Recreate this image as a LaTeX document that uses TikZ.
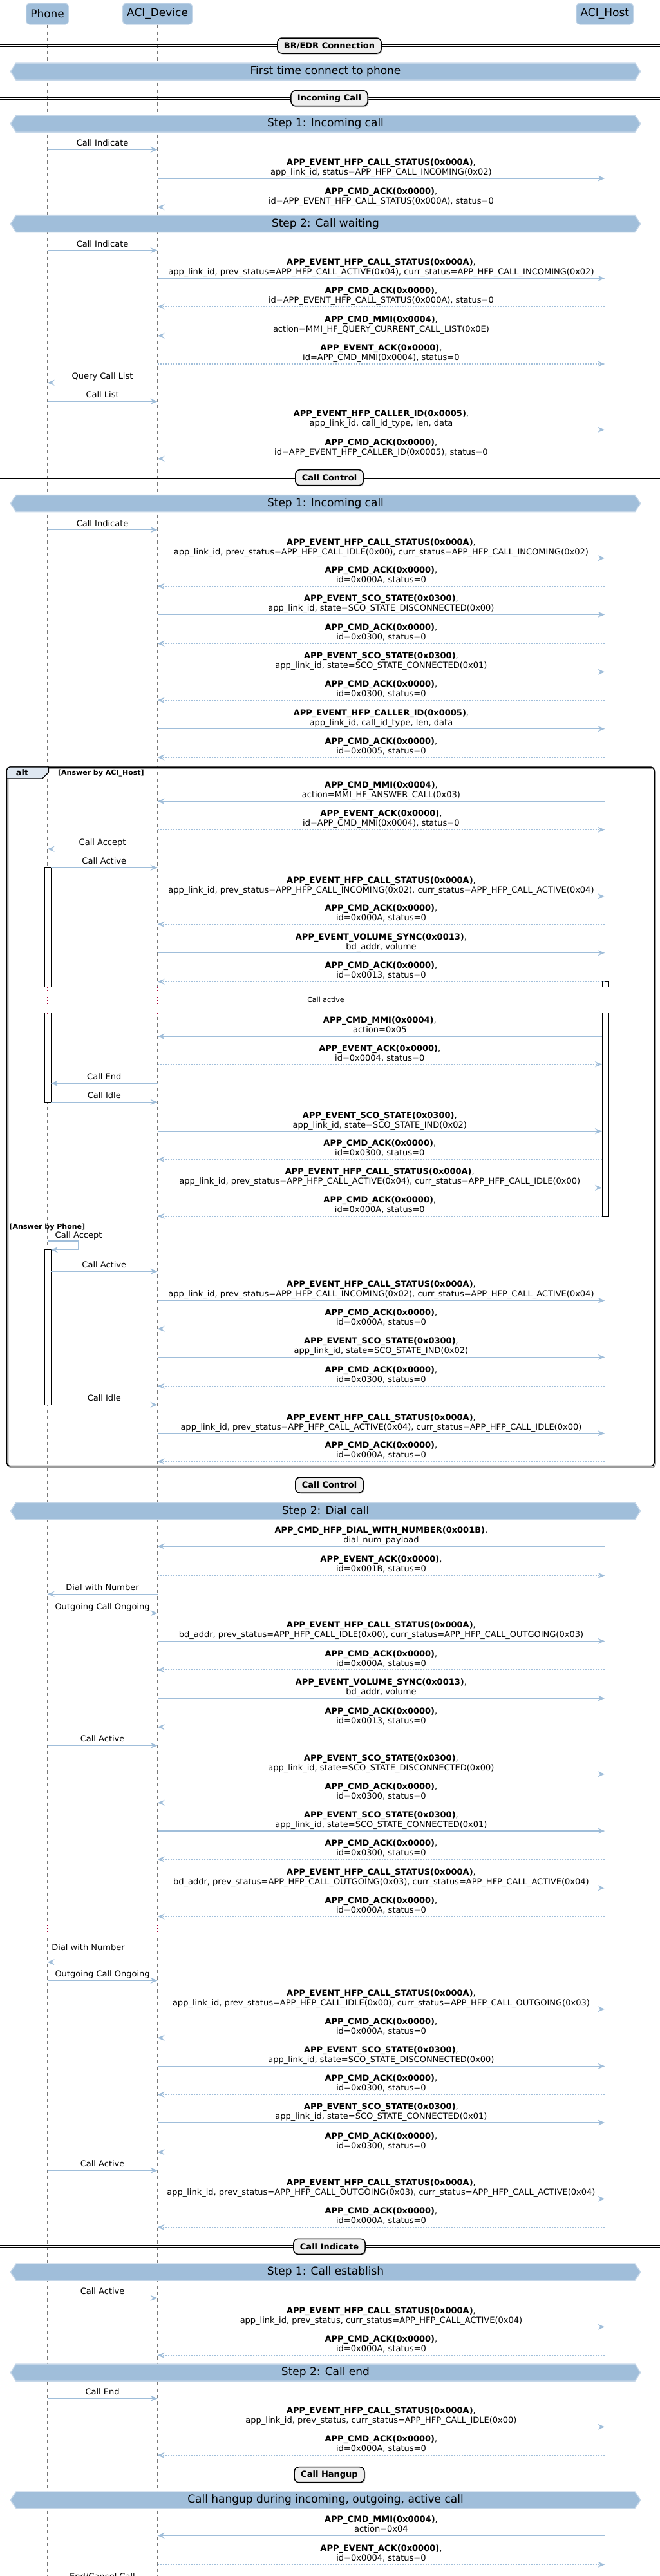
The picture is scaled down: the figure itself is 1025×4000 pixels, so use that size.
\documentclass[tikz,border=0pt]{standalone}
\usepackage{fontspec}
\setmainfont{DejaVu Sans}
\usetikzlibrary{arrows.meta,calc,shadows}

\definecolor{umlblue}{RGB}{160,190,218}
\definecolor{umledge}{RGB}{196,214,232}
\definecolor{lifegray}{RGB}{120,120,120}
\definecolor{delayred}{RGB}{168,0,54}
\definecolor{sectiongray}{RGB}{238,238,238}
\definecolor{tabblue}{RGB}{222,231,241}

\newcommand{\phoneX}{73.6}
\newcommand{\phonebarX}{79}
\newcommand{\deviceX}{244.6}
\newcommand{\hostX}{939.3}
\newcommand{\hostbarX}{935}

\tikzset{
  lifeline/.style={draw=lifegray, line width=0.6pt, dash pattern=on 5pt off 5pt},
  delayline/.style={draw=delayred, line width=1.1pt, dash pattern=on 1pt off 4pt},
  call/.style={draw=umlblue, line width=1.5pt, -{Stealth[length=11pt,width=9pt,inset=4pt]}},
  reply/.style={call, dash pattern=on 2pt off 2pt},
  msglabel/.style={anchor=base, inner sep=0pt, font=\fontsize{13}{15}\selectfont},
  actor/.style={draw=umledge, fill=umlblue, rounded corners=5pt, line width=1pt,
    minimum height=33pt, inner xsep=6.5pt, font=\fontsize{17}{20}\selectfont},
  section/.style={draw=black, fill=sectiongray, rounded corners=7pt, line width=1.5pt,
    minimum height=24pt, inner xsep=10pt, font=\bfseries\fontsize{13}{15}\selectfont,
    drop shadow={shadow xshift=1.5pt, shadow yshift=-1.5pt, fill=black!45}},
  stepbar/.style={draw=umledge, fill=umlblue, line width=1.5pt},
  steptext/.style={inner sep=0pt, font=\fontsize{17}{20}\selectfont},
  activebar/.style={draw=black, fill=white, line width=1pt},
  guard/.style={anchor=base west, inner sep=0pt, font=\bfseries\fontsize{11}{13}\selectfont},
}

% message with bold name and a detail line
\newcommand{\msgpair}[6]{%
  \coordinate (tail) at (#2,#4);
  \coordinate (tip) at (#3,#4);
  \draw[#1] (tail) -- (tip);
  \node[msglabel] (head) at ($(tail)!0.5!(tip)+(0,-20.5)$) {\textbf{#5},};
  \node[msglabel] (body) at ($(tail)!0.5!(tip)+(0,-5.5)$) {#6};
}
% message with one plain label
\newcommand{\msgline}[5]{%
  \coordinate (tail) at (#2,#4);
  \coordinate (tip) at (#3,#4);
  \draw[#1] (tail) -- (tip);
  \node[msglabel] (note) at ($(tail)!0.5!(tip)+(0,-5.5)$) {#5};
}
\newcommand{\stepbanner}[3]{%
  \draw[stepbar] (16.4,#2) -- (25,#2-13) -- (986,#2-13) -- (994.7,#2)
    -- (986,#2+13) -- (25,#2+13) -- cycle;
  \node[steptext] (#1) at (505.5,#2) {#3};
}
\newcommand{\separator}[3]{%
  \draw[line width=1pt] (0,#2-1.6) -- (1025,#2-1.6) (0,#2+1.6) -- (1025,#2+1.6);
  \node[section] (#1) at (511.5,#2) {#3};
}

\begin{document}
\catcode`\_=12
\begin{tikzpicture}[x=1pt,y=-1pt]
\useasboundingbox (0,0) rectangle (1025,4000);

% participants and lifelines
\node[actor] (phone) at (\phoneX,21.5) {Phone};
\node[actor] (device) at (\deviceX,21.5) {ACI_Device};
\node[actor] (host) at (\hostX,21.5) {ACI_Host};
\coordinate (phone-end) at (\phoneX,4000);
\coordinate (device-end) at (\deviceX,4000);
\coordinate (host-end) at (\hostX,4000);
\draw[lifeline] (phone) -- (phone-end);
\draw[lifeline] (device) -- (device-end);
\draw[lifeline] (host) -- (host-end);

% activations
\draw[activebar] (69,1347.3) rectangle (79,1711.3);
\draw[activebar] (\hostbarX,1524.3) rectangle (945,1888.3);
\draw[activebar] (69,1940.7) rectangle (79,2181.3);

% delays
\fill[white] (60,1531.7) rectangle (955,1573.3);
\foreach \lx in {\phoneX,\deviceX,\hostX}
  \draw[delayline] (\lx,1533) -- (\lx,1573.3);
\node[inner sep=0pt, font=\fontsize{11}{13}\selectfont] (pause) at (506,1552.3) {Call active};
\fill[white] (60,2983.3) rectangle (955,3010);
\foreach \lx in {\phoneX,\deviceX,\hostX}
  \draw[delayline] (\lx,2984) -- (\lx,3010);

% alt frame
\draw[black!40, line width=1.5pt, rounded corners=5pt] (12.5,1193) rectangle (1018,2278.7);
\draw[line width=1.5pt, rounded corners=5pt] (10.5,1191) rectangle (1016,2276.7);
\filldraw[fill=tabblue, line width=1.2pt] (10.5,1209) -- (10.5,1196)
  arc[start angle=180, end angle=270, radius=5] -- (75.6,1191) -- (75.6,1199) -- (65.7,1209) -- cycle;
\node[inner sep=0pt, font=\bfseries\fontsize{13}{15}\selectfont] (alttag) at (34.5,1199.5) {alt};
\node[guard] (guard1) at (90,1203) {[Answer by ACI_Host]};
\draw[line width=1pt, dash pattern=on 2pt off 2pt] (10.5,1897.3) -- (1016,1897.3);
\node[guard] (guard2) at (14.5,1908) {[Answer by Phone]};

% banners and separators
\separator{bredr}{71}{BR/EDR Connection}
\stepbanner{first}{111}{First time connect to phone}
\separator{incoming}{152.7}{Incoming Call}
\stepbanner{stepa}{192}{Step 1: Incoming call}
\stepbanner{stepb}{347.5}{Step 2: Call waiting}
\separator{controla}{741.7}{Call Control}
\stepbanner{stepc}{781.7}{Step 1: Incoming call}
\separator{controlb}{2306}{Call Control}
\stepbanner{stepd}{2346.3}{Step 2: Dial call}
\separator{indicate}{3488.3}{Call Indicate}
\stepbanner{stepe}{3528}{Step 1: Call establish}
\stepbanner{stepf}{3684}{Step 2: Call end}
\separator{hangup}{3842.7}{Call Hangup}
\stepbanner{stepg}{3882}{Call hangup during incoming, outgoing, active call}

% first time connect
\msgline{call}{\phoneX}{\deviceX}{232.3}{Call Indicate}
\msgpair{call}{\deviceX}{\hostX}{277}{APP_EVENT_HFP_CALL_STATUS(0x000A)}{app_link_id, status=APP_HFP_CALL_INCOMING(0x02)}
\msgpair{reply}{\hostX}{\deviceX}{321.7}{APP_CMD_ACK(0x0000)}{id=APP_EVENT_HFP_CALL_STATUS(0x000A), status=0}
\msgline{call}{\phoneX}{\deviceX}{388.7}{Call Indicate}
\msgpair{call}{\deviceX}{\hostX}{432.3}{APP_EVENT_HFP_CALL_STATUS(0x000A)}{app_link_id, prev_status=APP_HFP_CALL_ACTIVE(0x04), curr_status=APP_HFP_CALL_INCOMING(0x02)}
\msgpair{reply}{\hostX}{\deviceX}{476}{APP_CMD_ACK(0x0000)}{id=APP_EVENT_HFP_CALL_STATUS(0x000A), status=0}
\msgpair{call}{\hostX}{\deviceX}{521.3}{APP_CMD_MMI(0x0004)}{action=MMI_HF_QUERY_CURRENT_CALL_LIST(0x0E)}
\msgpair{reply}{\deviceX}{\hostX}{565}{APP_EVENT_ACK(0x0000)}{id=APP_CMD_MMI(0x0004), status=0}
\msgline{call}{\deviceX}{\phoneX}{594.3}{Query Call List}
\msgline{call}{\phoneX}{\deviceX}{623.3}{Call List}
\msgpair{call}{\deviceX}{\hostX}{667.3}{APP_EVENT_HFP_CALLER_ID(0x0005)}{app_link_id, call_id_type, len, data}
\msgpair{reply}{\hostX}{\deviceX}{712.3}{APP_CMD_ACK(0x0000)}{id=APP_EVENT_HFP_CALLER_ID(0x0005), status=0}

% call control: incoming call
\msgline{call}{\phoneX}{\deviceX}{822.7}{Call Indicate}
\msgpair{call}{\deviceX}{\hostX}{866.7}{APP_EVENT_HFP_CALL_STATUS(0x000A)}{app_link_id, prev_status=APP_HFP_CALL_IDLE(0x00), curr_status=APP_HFP_CALL_INCOMING(0x02)}
\msgpair{reply}{\hostX}{\deviceX}{910.3}{APP_CMD_ACK(0x0000)}{id=0x000A, status=0}
\msgpair{call}{\deviceX}{\hostX}{954.3}{APP_EVENT_SCO_STATE(0x0300)}{app_link_id, state=SCO_STATE_DISCONNECTED(0x00)}
\msgpair{reply}{\hostX}{\deviceX}{999.3}{APP_CMD_ACK(0x0000)}{id=0x0300, status=0}
\msgpair{call}{\deviceX}{\hostX}{1043.3}{APP_EVENT_SCO_STATE(0x0300)}{app_link_id, state=SCO_STATE_CONNECTED(0x01)}
\msgpair{reply}{\hostX}{\deviceX}{1087.3}{APP_CMD_ACK(0x0000)}{id=0x0300, status=0}
\msgpair{call}{\deviceX}{\hostX}{1131.7}{APP_EVENT_HFP_CALLER_ID(0x0005)}{app_link_id, call_id_type, len, data}
\msgpair{reply}{\hostX}{\deviceX}{1176}{APP_CMD_ACK(0x0000)}{id=0x0005, status=0}

% answer by ACI_Host
\msgpair{call}{\hostX}{\deviceX}{1244.3}{APP_CMD_MMI(0x0004)}{action=MMI_HF_ANSWER_CALL(0x03)}
\msgpair{reply}{\deviceX}{\hostX}{1288.3}{APP_EVENT_ACK(0x0000)}{id=APP_CMD_MMI(0x0004), status=0}
\msgline{call}{\deviceX}{\phoneX}{1318.3}{Call Accept}
\msgline{call}{\phonebarX}{\deviceX}{1347.3}{Call Active}
\msgpair{call}{\deviceX}{\hostX}{1391.7}{APP_EVENT_HFP_CALL_STATUS(0x000A)}{app_link_id, prev_status=APP_HFP_CALL_INCOMING(0x02), curr_status=APP_HFP_CALL_ACTIVE(0x04)}
\msgpair{reply}{\hostX}{\deviceX}{1435.3}{APP_CMD_ACK(0x0000)}{id=0x000A, status=0}
\msgpair{call}{\deviceX}{\hostX}{1479.7}{APP_EVENT_VOLUME_SYNC(0x0013)}{bd_addr, volume}
\msgpair{reply}{\hostX}{\deviceX}{1524.3}{APP_CMD_ACK(0x0000)}{id=0x0013, status=0}
\msgpair{call}{\hostbarX}{\deviceX}{1609.3}{APP_CMD_MMI(0x0004)}{action=0x05}
\msgpair{reply}{\deviceX}{\hostbarX}{1652.7}{APP_EVENT_ACK(0x0000)}{id=0x0004, status=0}
\msgline{call}{\deviceX}{\phonebarX}{1682.3}{Call End}
\msgline{call}{\phonebarX}{\deviceX}{1711.3}{Call Idle}
\msgpair{call}{\deviceX}{\hostbarX}{1756.7}{APP_EVENT_SCO_STATE(0x0300)}{app_link_id, state=SCO_STATE_IND(0x02)}
\msgpair{reply}{\hostbarX}{\deviceX}{1800.3}{APP_CMD_ACK(0x0000)}{id=0x0300, status=0}
\msgpair{call}{\deviceX}{\hostbarX}{1844.3}{APP_EVENT_HFP_CALL_STATUS(0x000A)}{app_link_id, prev_status=APP_HFP_CALL_ACTIVE(0x04), curr_status=APP_HFP_CALL_IDLE(0x00)}
\msgpair{reply}{\hostbarX}{\deviceX}{1888.3}{APP_CMD_ACK(0x0000)}{id=0x000A, status=0}

% answer by phone
\coordinate (acc-a) at (\phoneX,1927);
\coordinate (acc-b) at (121.6,1927);
\coordinate (acc-c) at (121.6,1940.7);
\coordinate (acc-d) at (\phonebarX,1940.7);
\draw[call] (acc-a) -- (acc-b) -- (acc-c) -- (acc-d);
\node[msglabel, anchor=base west] (acc-note) at (85.5,1922.5) {Call Accept};
\msgline{call}{\phonebarX}{\deviceX}{1974.3}{Call Active}
\msgpair{call}{\deviceX}{\hostX}{2019.3}{APP_EVENT_HFP_CALL_STATUS(0x000A)}{app_link_id, prev_status=APP_HFP_CALL_INCOMING(0x02), curr_status=APP_HFP_CALL_ACTIVE(0x04)}
\msgpair{reply}{\hostX}{\deviceX}{2063.3}{APP_CMD_ACK(0x0000)}{id=0x000A, status=0}
\msgpair{call}{\deviceX}{\hostX}{2107.3}{APP_EVENT_SCO_STATE(0x0300)}{app_link_id, state=SCO_STATE_IND(0x02)}
\msgpair{reply}{\hostX}{\deviceX}{2152.3}{APP_CMD_ACK(0x0000)}{id=0x0300, status=0}
\msgline{call}{\phonebarX}{\deviceX}{2181.3}{Call Idle}
\msgpair{call}{\deviceX}{\hostX}{2225.7}{APP_EVENT_HFP_CALL_STATUS(0x000A)}{app_link_id, prev_status=APP_HFP_CALL_ACTIVE(0x04), curr_status=APP_HFP_CALL_IDLE(0x00)}
\msgpair{reply}{\hostX}{\deviceX}{2269}{APP_CMD_ACK(0x0000)}{id=0x000A, status=0}

% dial call from ACI_Host
\msgpair{call}{\hostX}{\deviceX}{2401}{APP_CMD_HFP_DIAL_WITH_NUMBER(0x001B)}{dial_num_payload}
\msgpair{reply}{\deviceX}{\hostX}{2446.3}{APP_EVENT_ACK(0x0000)}{id=0x001B, status=0}
\msgline{call}{\deviceX}{\phoneX}{2475.3}{Dial with Number}
\msgline{call}{\phoneX}{\deviceX}{2504.7}{Outgoing Call Ongoing}
\msgpair{call}{\deviceX}{\hostX}{2548.3}{APP_EVENT_HFP_CALL_STATUS(0x000A)}{bd_addr, prev_status=APP_HFP_CALL_IDLE(0x00), curr_status=APP_HFP_CALL_OUTGOING(0x03)}
\msgpair{reply}{\hostX}{\deviceX}{2592.7}{APP_CMD_ACK(0x0000)}{id=0x000A, status=0}
\msgpair{call}{\deviceX}{\hostX}{2637}{APP_EVENT_VOLUME_SYNC(0x0013)}{bd_addr, volume}
\msgpair{reply}{\hostX}{\deviceX}{2681.7}{APP_CMD_ACK(0x0000)}{id=0x0013, status=0}
\msgline{call}{\phoneX}{\deviceX}{2710.3}{Call Active}
\msgpair{call}{\deviceX}{\hostX}{2754.7}{APP_EVENT_SCO_STATE(0x0300)}{app_link_id, state=SCO_STATE_DISCONNECTED(0x00)}
\msgpair{reply}{\hostX}{\deviceX}{2799.3}{APP_CMD_ACK(0x0000)}{id=0x0300, status=0}
\msgpair{call}{\deviceX}{\hostX}{2843}{APP_EVENT_SCO_STATE(0x0300)}{app_link_id, state=SCO_STATE_CONNECTED(0x01)}
\msgpair{reply}{\hostX}{\deviceX}{2887}{APP_CMD_ACK(0x0000)}{id=0x0300, status=0}
\msgpair{call}{\deviceX}{\hostX}{2931.7}{APP_EVENT_HFP_CALL_STATUS(0x000A)}{bd_addr, prev_status=APP_HFP_CALL_OUTGOING(0x03), curr_status=APP_HFP_CALL_ACTIVE(0x04)}
\msgpair{reply}{\hostX}{\deviceX}{2976}{APP_CMD_ACK(0x0000)}{id=0x000A, status=0}

% dial call from phone
\coordinate (dial-a) at (\phoneX,3032.7);
\coordinate (dial-b) at (116.4,3032.7);
\coordinate (dial-c) at (116.4,3046.7);
\coordinate (dial-d) at (\phoneX,3046.7);
\draw[call] (dial-a) -- (dial-b) -- (dial-c) -- (dial-d);
\node[msglabel, anchor=base west] (dial-note) at (80.2,3028) {Dial with Number};
\msgline{call}{\phoneX}{\deviceX}{3075.3}{Outgoing Call Ongoing}
\msgpair{call}{\deviceX}{\hostX}{3119.7}{APP_EVENT_HFP_CALL_STATUS(0x000A)}{app_link_id, prev_status=APP_HFP_CALL_IDLE(0x00), curr_status=APP_HFP_CALL_OUTGOING(0x03)}
\msgpair{reply}{\hostX}{\deviceX}{3164.3}{APP_CMD_ACK(0x0000)}{id=0x000A, status=0}
\msgpair{call}{\deviceX}{\hostX}{3208.3}{APP_EVENT_SCO_STATE(0x0300)}{app_link_id, state=SCO_STATE_DISCONNECTED(0x00)}
\msgpair{reply}{\hostX}{\deviceX}{3252.3}{APP_CMD_ACK(0x0000)}{id=0x0300, status=0}
\msgpair{call}{\deviceX}{\hostX}{3296}{APP_EVENT_SCO_STATE(0x0300)}{app_link_id, state=SCO_STATE_CONNECTED(0x01)}
\msgpair{reply}{\hostX}{\deviceX}{3341.7}{APP_CMD_ACK(0x0000)}{id=0x0300, status=0}
\msgline{call}{\phoneX}{\deviceX}{3370.3}{Call Active}
\msgpair{call}{\deviceX}{\hostX}{3414.3}{APP_EVENT_HFP_CALL_STATUS(0x000A)}{app_link_id, prev_status=APP_HFP_CALL_OUTGOING(0x03), curr_status=APP_HFP_CALL_ACTIVE(0x04)}
\msgpair{reply}{\hostX}{\deviceX}{3458.3}{APP_CMD_ACK(0x0000)}{id=0x000A, status=0}

% call indicate
\msgline{call}{\phoneX}{\deviceX}{3568.3}{Call Active}
\msgpair{call}{\deviceX}{\hostX}{3613.3}{APP_EVENT_HFP_CALL_STATUS(0x000A)}{app_link_id, prev_status, curr_status=APP_HFP_CALL_ACTIVE(0x04)}
\msgpair{reply}{\hostX}{\deviceX}{3657.3}{APP_CMD_ACK(0x0000)}{id=0x000A, status=0}
\msgline{call}{\phoneX}{\deviceX}{3724.3}{Call End}
\msgpair{call}{\deviceX}{\hostX}{3768.3}{APP_EVENT_HFP_CALL_STATUS(0x000A)}{app_link_id, prev_status, curr_status=APP_HFP_CALL_IDLE(0x00)}
\msgpair{reply}{\hostX}{\deviceX}{3812.3}{APP_CMD_ACK(0x0000)}{id=0x000A, status=0}

% call hangup
\msgpair{call}{\hostX}{\deviceX}{3937.3}{APP_CMD_MMI(0x0004)}{action=0x04}
\msgpair{reply}{\deviceX}{\hostX}{3982.3}{APP_EVENT_ACK(0x0000)}{id=0x0004, status=0}
\node[msglabel] (cut-note) at (159,4005.5) {End/Cancel Call};
\end{tikzpicture}
\end{document}
